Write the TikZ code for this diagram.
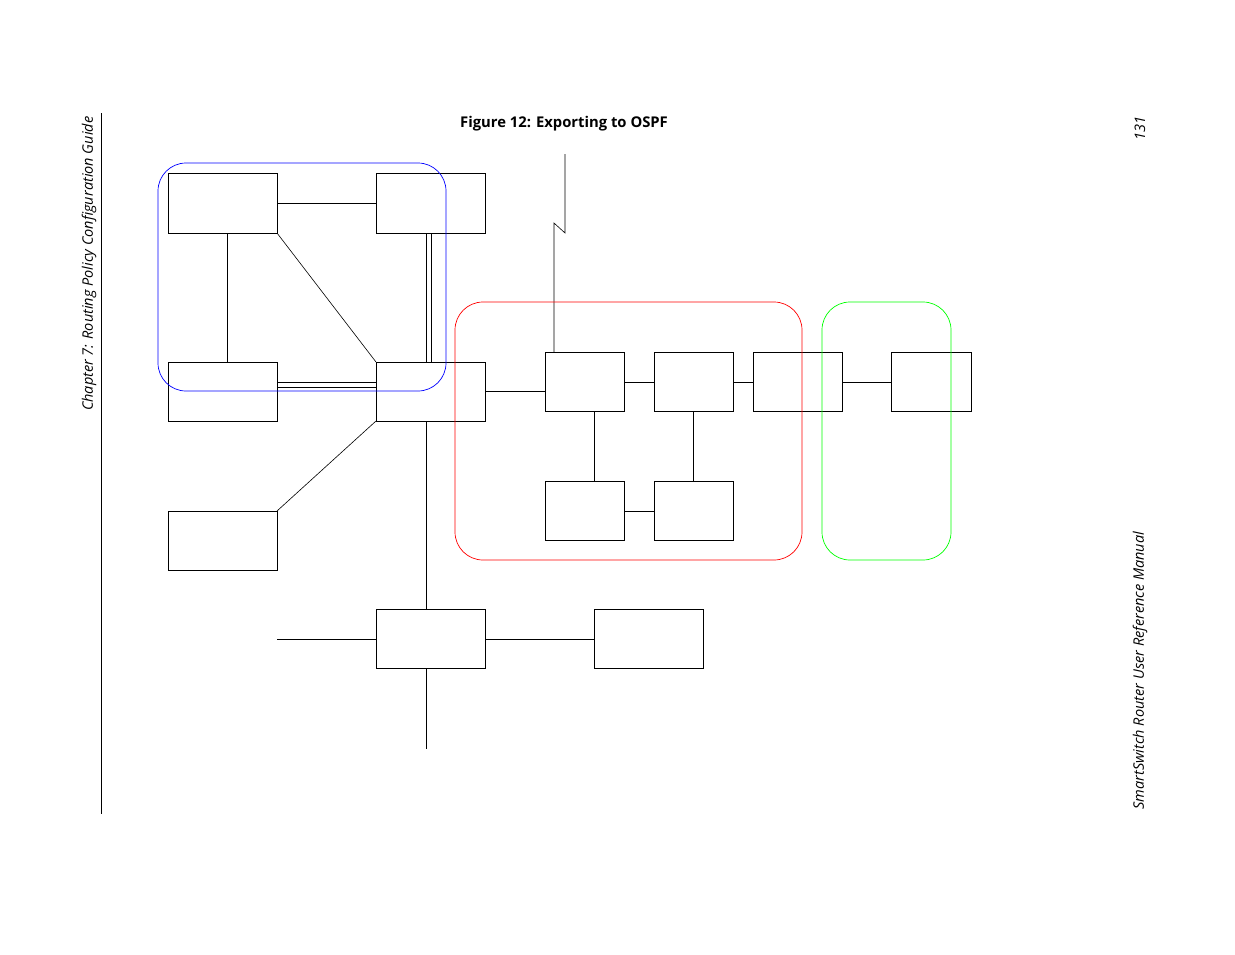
\documentclass[tikz,border=0pt]{standalone}
\usepackage{fontspec}
\setmainfont{Open Sans}
\begin{document}
\begin{tikzpicture}[x=1pt,y=-1pt,
 ln/.style={line width=0.6pt},
 grp/.style={line width=0.7pt,rounded corners=28pt},
 side/.style={font=\itshape\fontsize{14.5}{16}\selectfont,rotate=90}]
\useasboundingbox (0,0) rectangle (1235,954);
\def\bxx#1#2#3#4#5{\draw[line width=1pt] (#2,#3) rectangle (#4,#5); \coordinate (#1) at ({(#2+#4)/2},{(#3+#5)/2});}
\bxx{A}{168}{173}{277}{233}
\bxx{B}{376}{173}{485}{233}
\bxx{C}{168}{362}{277}{421}
\bxx{D}{376}{362}{485}{421}
\bxx{E}{168}{511}{277}{570}
\bxx{F}{545}{352}{624}{411}
\bxx{G}{654}{352}{733}{411}
\bxx{H}{753}{352}{842}{411}
\bxx{I}{891}{352}{971}{411}
\bxx{J}{545}{481}{624}{540}
\bxx{K}{654}{481}{733}{540}
\bxx{L}{376}{609}{485}{668}
\bxx{M}{594}{609}{703}{668}
\draw[ln] (277,203)--(376,203);
\draw[ln] (227,233)--(227,362);
\draw[ln] (277,233)--(376,362);
\draw[ln] (426,233)--(426,362) (431,233)--(431,362);
\draw[ln] (277,382)--(376,382) (277,387)--(376,387);
\draw[ln] (485,391)--(545,391);
\draw[ln] (376,421)--(277,511);
\draw[ln] (426,421)--(426,609);
\draw[ln] (277,639)--(376,639);
\draw[ln] (485,639)--(594,639);
\draw[ln] (426,668)--(426,749);
\draw[ln] (624,382)--(654,382) (733,382)--(753,382) (842,382)--(891,382);
\draw[ln] (594,411)--(594,481) (693,411)--(693,481) (624,511)--(654,511);
\draw[ln] (554,352)--(554,223)--(565,233)--(565,154);
\draw[grp,blue] (158,163) rectangle (446,391);
\draw[grp,red] (455,302) rectangle (802,560);
\draw[grp,green] (822,302) rectangle (951,560);
\draw[line width=0.8pt] (101,113)--(101,814);
\node[font=\bfseries\fontsize{14.8}{17}\selectfont] (t) at (564,124) {Figure 12: Exporting to OSPF};
\node[side,anchor=east] (ch) at (89,113) {Chapter 7: Routing Policy Configuration Guide};
\node[side,anchor=east] (pg) at (1140,113) {131};
\node[side,anchor=west] (mn) at (1140,813) {SmartSwitch Router User Reference Manual};
\end{tikzpicture}
\end{document}
